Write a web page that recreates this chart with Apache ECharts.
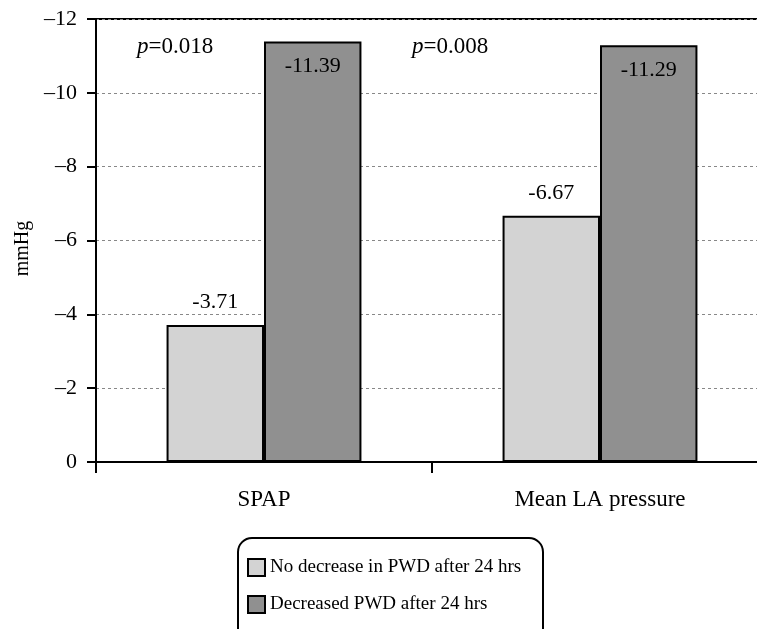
<!DOCTYPE html>
<html>
<head>
<meta charset="utf-8">
<script src="https://cdn.jsdelivr.net/npm/echarts@6/dist/echarts.min.js"></script>
<style>
html,body{margin:0;padding:0;background:#fff;}
#chart{width:757px;height:629px;}
</style>
</head>
<body>
<div id="chart"></div>
<script>
var categories = ['SPAP', 'Mean LA pressure'];
var seriesNames = ['No decrease in PWD after 24 hrs', 'Decreased PWD after 24 hrs'];
var noDecrease = [-3.71, -6.67];
var decreased = [-11.39, -11.29];
var pValues = ['0.018', '0.008'];
var yMin = -12, yMax = 0, yStep = 2;

var FONT = '"Liberation Serif", "Times New Roman", serif';
var chart = echarts.init(document.getElementById('chart'), null, {renderer: 'canvas'});

var option = {
  backgroundColor: '#fff',
  animation: false,
  textStyle: {fontFamily: FONT, color: '#000'},
  grid: {
    left: 96, top: 19, width: 672, height: 443,
    outerBoundsMode: 'none',
    containLabel: false,
    show: true, borderColor: '#000', borderWidth: 2, backgroundColor: 'transparent'
  },
  legend: {
    orient: 'vertical',
    left: 247, top: 558,
    padding: 0,
    itemWidth: 17, itemHeight: 17, itemGap: 18,
    icon: 'rect',
    itemStyle: {borderColor: '#000', borderWidth: 2},
    textStyle: {fontFamily: FONT, fontSize: 19, color: '#000'},
    data: seriesNames
  },
  xAxis: {
    type: 'category',
    data: categories,
    axisLine: {lineStyle: {color: '#000', width: 2}},
    axisTick: {show: true, length: 11, lineStyle: {color: '#000', width: 2}, alignWithLabel: false},
    axisLabel: {fontFamily: FONT, fontSize: 23, color: '#000', margin: 26},
    splitLine: {show: false}
  },
  yAxis: {
    type: 'value',
    inverse: true,
    min: yMin, max: yMax, interval: yStep,
    name: 'mmHg',
    nameLocation: 'middle',
    nameGap: 57,
    nameTextStyle: {fontFamily: FONT, fontSize: 20, color: '#000', padding: [0, 16, 0, 0]},
    axisLine: {show: true, lineStyle: {color: '#000', width: 2}},
    axisTick: {show: true, length: 9, lineStyle: {color: '#000', width: 2}},
    axisLabel: {
      fontFamily: FONT, fontSize: 22, color: '#000', margin: 19,
      formatter: function (v) { return String(v).replace('-', '\u2013'); }
    },
    splitLine: {show: true, lineStyle: {color: '#888', width: 1, type: [3, 3]}}
  },
  series: [
    {
      name: seriesNames[0],
      type: 'bar',
      data: noDecrease,
      barGap: '0%',
      barCategoryGap: '42%',
      itemStyle: {color: '#d3d3d3', borderColor: '#000', borderWidth: 2},
      label: {show: true, position: 'top', distance: 12, fontFamily: FONT, fontSize: 22, color: '#000'}
    },
    {
      name: seriesNames[1],
      type: 'bar',
      data: decreased,
      barGap: '0%',
      barCategoryGap: '42%',
      itemStyle: {color: '#909090', borderColor: '#000', borderWidth: 2},
      label: {show: true, position: 'insideTop', distance: 14, fontFamily: FONT, fontSize: 22, color: '#000'}
    }
  ],
  graphic: [
    {
      type: 'rect', silent: true, z: 0,
      shape: {x: 238, y: 538, width: 305, height: 110, r: 14},
      style: {fill: 'none', stroke: '#000', lineWidth: 2}
    },
    {
      type: 'text', left: 137, top: 35, silent: true,
      style: {
        text: '{i|p}=' + pValues[0],
        rich: {i: {fontStyle: 'italic', fontFamily: FONT, fontSize: 23}},
        fontFamily: FONT, fontSize: 23, fill: '#000'
      }
    },
    {
      type: 'text', left: 412, top: 35, silent: true,
      style: {
        text: '{i|p}=' + pValues[1],
        rich: {i: {fontStyle: 'italic', fontFamily: FONT, fontSize: 23}},
        fontFamily: FONT, fontSize: 23, fill: '#000'
      }
    }
  ]
};
chart.setOption(option);
</script>
</body>
</html>
